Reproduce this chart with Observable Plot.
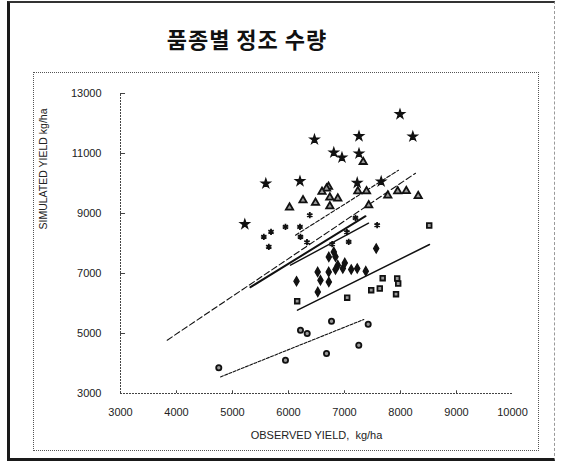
<!DOCTYPE html>
<html>
<head>
<meta charset="utf-8">
<script src="https://cdn.jsdelivr.net/npm/d3@7"></script>
<script src="https://cdn.jsdelivr.net/npm/@observablehq/plot@0.6"></script>
<style>
  html, body { margin: 0; padding: 0; background: #fff; }
  #page { position: relative; width: 566px; height: 470px; overflow: hidden; background: #fff; }
  #outer { position: absolute; left: 7px; top: 1px; width: 548px; height: 460px;
           border-left: 3px solid #1a1a1a; border-top: 2px solid #333; border-bottom: 3px solid #1a1a1a;
           border-right: 1px dashed #999; box-sizing: border-box; }
  #inner { position: absolute; left: 33px; top: 72px; width: 506px; height: 379px;
           border: 1px dotted #555; box-sizing: border-box; }
  #title { position: absolute; left: 147px; width: 200px; top: 22px; text-align: center;
           font-family: "Noto Sans CJK KR", sans-serif; font-weight: 700; font-size: 22px;
           letter-spacing: 1px; color: #111; }
  #chart { position: absolute; left: 33px; top: 73px; }
</style>
</head>
<body>
<div id="page">
  <div id="outer"></div>
  <div id="inner"></div>
  <div id="title">품종별 정조 수량</div>
  <div id="chart"></div>
</div>
<script>
// Tick values
const xTicks = [3000, 4000, 5000, 6000, 7000, 8000, 9000, 10000];
const yTicks = [3000, 5000, 7000, 9000, 11000, 13000];
const xTitle = "OBSERVED YIELD,  kg/ha";
const yTitle = "SIMULATED YIELD kg/ha";

// Observed / simulated yields per variety group
const g1Obs = [6464, 6809, 6955, 7259, 7991, 8220, 7259, 5595, 6205, 5220, 7227, 7655];
const g1Sim = [11467, 11033, 10867, 11577, 12310, 11567, 11000, 10000, 10077, 8643, 10020, 10067];
const g2Obs = [7334, 7238, 7393, 7950, 8103, 7773, 8316, 6714, 6679, 6598, 6738, 6880, 6482, 6738, 6259, 6018, 7432];
const g2Sim = [10720, 9743, 9743, 9743, 9750, 9600, 9583, 9893, 9833, 9727, 9533, 9500, 9360, 9243, 9443, 9200, 9277];
const g3Obs = [7196, 7583, 5946, 6205, 6214, 5688, 5559, 6380, 6330, 5648, 7075, 7043, 6780];
const g3Sim = [8853, 8610, 8553, 8553, 8220, 8387, 8220, 8943, 8043, 7887, 8053, 8377, 7977];
const g4Obs = [7566, 6839, 6720, 6809, 6880, 7005, 6839, 6970, 7120, 7227, 7380, 6521, 6718, 6143, 6571, 6720, 6523];
const g4Sim = [7833, 7560, 7553, 7720, 7277, 7353, 7133, 7167, 7133, 7167, 7077, 7053, 7053, 6743, 6777, 6720, 6387];
const g5Obs = [8513, 7682, 7941, 7959, 7477, 7630, 7920, 7048, 6155];
const g5Sim = [8600, 6843, 6833, 6667, 6443, 6500, 6310, 6193, 6077];
const g6Obs = [6214, 6334, 6768, 7423, 7255, 6679, 5946, 4755];
const g6Sim = [5110, 5000, 5410, 5310, 4610, 4333, 4110, 3860];

// Regression line end points per group
const fit1Obs = [6125, 7964];  const fit1Sim = [8277, 10443];
const fit2Obs = [3834, 8268];  const fit2Sim = [4777, 10343];
const fit3Obs = [5321, 7375];  const fit3Sim = [6543, 8910];
const fit4Obs = [6036, 7429];  const fit4Sim = [7277, 8677];
const fit5Obs = [6161, 8518];  const fit5Sim = [5777, 7967];
const fit6Obs = [4786, 7345];  const fit6Sim = [3553, 5467];

const groups = [
  {obs: g1Obs, sim: g1Sim, fo: fit1Obs, fs: fit1Sim, symbol: "star", filled: true, r: 2.9, dash: "4,2", lw: 1.1},
  {obs: g2Obs, sim: g2Sim, fo: fit2Obs, fs: fit2Sim, symbol: "triangle", filled: false, r: 2.7, dash: "6,3", lw: 1.1},
  {obs: g3Obs, sim: g3Sim, fo: fit3Obs, fs: fit3Sim, symbol: "asterisk", filled: false, r: 2.9, dash: null, lw: 2.0},
  {obs: g4Obs, sim: g4Sim, fo: fit4Obs, fs: fit4Sim, symbol: "diamond", filled: true, r: 2.8, dash: null, lw: 1.4},
  {obs: g5Obs, sim: g5Sim, fo: fit5Obs, fs: fit5Sim, symbol: "square", filled: false, r: 2.6, dash: null, lw: 1.5},
  {obs: g6Obs, sim: g6Sim, fo: fit6Obs, fs: fit6Sim, symbol: "circle", filled: false, r: 2.6, dash: "3,1.5", lw: 1.1}
];

const ink = "#111";
const marks = [];

// axis lines (left and bottom only)
marks.push(Plot.ruleX([3000], {y1: 3000, y2: 13000, stroke: "#444", strokeWidth: 1, strokeDasharray: "2,1"}));
marks.push(Plot.ruleY([3000], {x1: 3000, x2: 10000, stroke: "#444", strokeWidth: 1, strokeDasharray: "2,1"}));
// small inward ticks
marks.push(Plot.ruleY(yTicks.slice(1), {x1: 3000, x2: 3090, stroke: "#444"}));
marks.push(Plot.ruleX(xTicks.slice(1, -1), {y1: 3000, y2: 3090, stroke: "#444"}));

for (const g of groups) {
  const line = g.fo.map((o, i) => ({obs: o, sim: g.fs[i]}));
  marks.push(Plot.line(line, {x: "obs", y: "sim", stroke: ink, strokeWidth: g.lw, strokeDasharray: g.dash}));
}
for (const g of groups) {
  const pts = g.obs.map((o, i) => ({obs: o, sim: g.sim[i]}));
  marks.push(Plot.dot(pts, {
    x: "obs", y: "sim", symbol: () => g.symbol, r: g.r,
    fill: g.filled ? ink : "#999", stroke: ink, strokeWidth: g.filled ? 1.2 : 1.8
  }));
}

const fmt = d3.format("d");
marks.push(Plot.axisX(xTicks, {tickSize: 0, tickPadding: 15, label: null, fontSize: 11, fill: "#222", tickFormat: fmt}));
marks.push(Plot.axisY(yTicks, {tickSize: 0, tickPadding: 19, label: null, fontSize: 11, fill: "#222", tickFormat: fmt}));
marks.push(Plot.text([xTitle], {frameAnchor: "bottom", dy: 45, fontSize: 11, fill: "#222"}));
marks.push(Plot.text([yTitle], {frameAnchor: "left", dx: -77, dy: -14, rotate: -90, fontSize: 10.5, fill: "#222"}));

const chart = Plot.plot({
  width: 506,
  height: 372,
  marginLeft: 87,
  marginRight: 27,
  marginTop: 20,
  marginBottom: 52,
  style: {fontFamily: "'Liberation Sans', Arial, sans-serif", background: "transparent", overflow: "visible"},
  x: {domain: [3000, 10000]},
  y: {domain: [3000, 13000]},
  symbol: {type: "identity"},
  marks
});
document.getElementById("chart").appendChild(chart);
</script>
</body>
</html>
